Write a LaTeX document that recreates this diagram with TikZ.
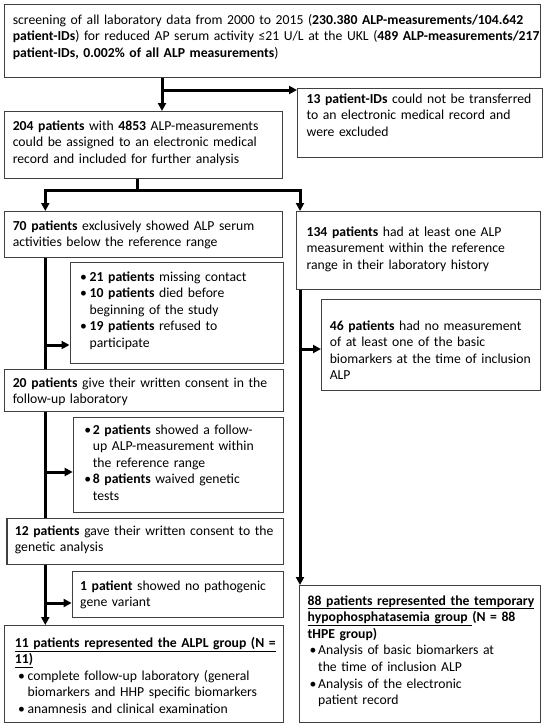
\documentclass[tikz,border=0pt]{standalone}
\usepackage{fontspec}
\setmainfont{Carlito}
\usetikzlibrary{arrows.meta,backgrounds}
\tikzset{
  x=1pt,y=-1pt,
  box/.style={draw=black!75,line width=1.2pt,fill=white,inner sep=0pt,anchor=north west},
  txt/.style={anchor=base west,inner sep=0pt,text width=#1,font=\fontsize{13.7}{16.6}\selectfont},
  conn/.style={line width=3pt},
  arr/.style={conn,-{Triangle[length=8pt,width=8pt]}},
}
\newcommand\mkbox[5]{\node[box,minimum width={(#4)-(#2)},minimum height={(#5)-(#3)}] (#1) at (#2,#3) {};}
\newcommand\bitemx[3]{\noindent\hangindent=#2pt\hangafter=1\hspace*{#1pt}\makebox[\dimexpr#2pt-#1pt\relax][l]{\textbullet}#3}
\newcommand\bitem[3]{\par\bitemx{#1}{#2}{#3}}
\begin{document}
\begin{tikzpicture}
\useasboundingbox (0,0) rectangle (550,728);
% boxes
\mkbox{b1}{4}{4}{540}{77}
\mkbox{b13}{297}{88}{542}{157}
\mkbox{b204}{4}{111}{282}{178}
\mkbox{b70}{4}{211}{282}{257}
\mkbox{b134}{296}{211}{540}{289}
\mkbox{bl1}{69.5}{262}{283}{363}
\mkbox{b46}{321}{299}{540}{390}
\mkbox{b20}{4}{369}{283}{411}
\mkbox{bl2}{72.7}{417}{283}{512}
\mkbox{b12}{6.3}{518}{283}{564}
\mkbox{b1p}{71.6}{571}{283}{617}
\mkbox{b11}{4}{625}{283}{722}
\mkbox{b88}{299}{585}{540}{722}
% texts
\node[txt=580pt] (t1) at (12.6,24) {\raggedright screening of all laboratory data from 2000 to 2015 (\textbf{230.380 ALP-measurements/104.642}\newline \textbf{patient-IDs}) for reduced AP serum activity ≤21 U/L at the UKL (\textbf{489 ALP-measurements/217}\newline \textbf{patient-IDs, 0.002\% of all ALP measurements})};
\node[txt=236pt] (t13) at (306.4,103) {\raggedright\textbf{13 patient-IDs} could not be transferred\newline to an electronic medical record and\newline were excluded};
\node[txt=268pt] (t204) at (12.6,130) {\raggedright\textbf{204 patients} with \textbf{4853} ALP-measurements\newline could be assigned to an electronic medical\newline record and included for further analysis};
\node[txt=268pt] (t70) at (12.6,230) {\raggedright\textbf{70 patients} exclusively showed ALP serum\newline activities below the reference range};
\node[txt=236pt] (t134) at (306.4,236) {\raggedright\textbf{134 patients} had at least one ALP\newline measurement within the reference\newline range in their laboratory history};
\node[txt=200pt] (tl1) at (80,281) {\raggedright\bitemx{0}{9.5}{\textbf{21 patients} missing contact}
  \bitem{0}{9.5}{\textbf{10 patients} died before\newline beginning of the study}
  \bitem{0}{9.5}{\textbf{19 patients} refused to\newline participate}\par};
\node[txt=210pt] (t46) at (329.6,330) {\raggedright\textbf{46 patients} had no measurement\newline of at least one of the basic\newline biomarkers at the time of inclusion\newline ALP};
\node[txt=268pt] (t20) at (12.6,387) {\raggedright\textbf{20 patients} give their written consent in the\newline follow-up laboratory};
\node[txt=198pt] (tl2) at (84.2,434) {\raggedright\bitemx{0}{8.5}{\textbf{2 patients} showed a follow-\newline up ALP-measurement within\newline the reference range}
  \bitem{0}{8.5}{\textbf{8 patients} waived genetic\newline tests}\par};
\node[txt=266pt] (t12) at (14.7,535) {\raggedright\textbf{12 patients} gave their written consent to the\newline genetic analysis};
\node[txt=200pt] (t1p) at (80,590) {\raggedright\textbf{1 patient} showed no pathogenic\newline gene variant};
\node[txt=266pt] (t11) at (14.7,647) {\raggedright\underline{\textbf{11 patients represented the ALPL group (N =}}\newline\underline{\textbf{11)}}
  \bitem{3.2}{12.7}{complete follow-up laboratory (general\newline biomarkers and HHP specific biomarkers}
  \bitem{3.2}{12.7}{anamnesis and clinical examination}\par};
\node[txt=230pt] (t88) at (307.5,605) {\raggedright\underline{\textbf{88 patients represented the temporary}}\newline\underline{\textbf{hypophosphatasemia group }}\textbf{(N = 88}\newline\textbf{tHPE group)}
  \bitem{2}{10.5}{Analysis of basic biomarkers at\newline the time of inclusion ALP}
  \bitem{2}{10.5}{Analysis of the electronic\newline patient record}\par};
% connectors
\begin{scope}[on background layer]
\fill[white] (0,0) rectangle (550,728);
\coordinate (xA) at (162,0);
\coordinate (yB) at (0,90);
\coordinate (split) at (137,190);
\coordinate (xL) at (45.3,0);
\coordinate (xR) at (300,0);
\coordinate (a1) at (45.3,345);
\coordinate (a2) at (45.3,472);
\coordinate (a3) at (45.3,603);
\coordinate (a4) at (300,349);
\draw[arr] (b1.south -| xA) -- (b204.north -| xA);
\draw[arr] (xA |- yB) -- (b13.west |- yB);
\draw[conn] (b204.south -| split) -- (split);
\draw[arr] ([xshift=1.5pt]split) -| (b70.north -| xL);
\draw[arr] ([xshift=-1.5pt]split) -| (b134.north -| xR);
\draw[arr] (b70.south -| xL) -- (b11.north -| xL);
\draw[arr] (a1) -- (a1 -| bl1.west);
\draw[arr] (a2) -- (a2 -| bl2.west);
\draw[arr] (a3) -- (a3 -| b1p.west);
\draw[arr] (b134.south -| xR) -- (b88.north -| xR);
\draw[arr] (a4) -- (a4 -| b46.west);
\end{scope}
\end{tikzpicture}
\end{document}
